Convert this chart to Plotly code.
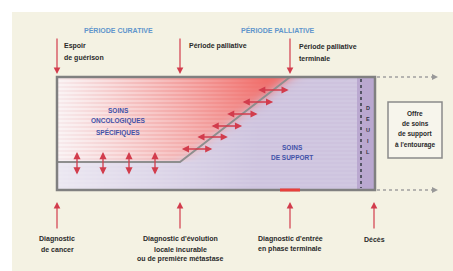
import numpy as np
import plotly.graph_objects as go

# ---- content (text) ----
period_labels = ["PÉRIODE CURATIVE", "PÉRIODE PALLIATIVE"]
top_event_labels = [["Espoir", "de guérison"], ["Période palliative"], ["Période palliative", "terminale"]]
bottom_event_labels = [["Diagnostic", "de cancer"],
                       ["Diagnostic d'évolution", "locale incurable", "ou de première métastase"],
                       ["Diagnostic d'entrée", "en phase terminale"],
                       ["Décès"]]
zone_labels = [["SOINS", "ONCOLOGIQUES", "SPÉCIFIQUES"], ["SOINS", "DE SUPPORT"]]
deuil_letters = ["D", "E", "U", "I", "L"]
entourage_labels = ["Offre", "de soins", "de support", "à l'entourage"]

# ---- layout geometry (pixel-like coordinates) ----
W, H = 453, 271
RX0, RX1, RY0, RY1 = 57, 375, 77, 190
T_START, T_PAL, T_TERM, T_DEATH = 57, 180, 290, 374
LINE_Y = 162

# gradient image for the main box
xs = np.arange(RX0, RX1) + 0.5
ys = np.arange(RY0, RY1) + 0.5
X, Y = np.meshgrid(xs, ys)
xc = T_PAL + (LINE_Y - Y) * (T_TERM - T_PAL) / (LINE_Y - RY0)
dx = np.where(Y < LINE_Y, X - xc, 999)
dy = Y - LINE_Y
inside = 1 / (1 + np.exp(np.clip(dx / 5.0, -50, 50)))
inside = inside * (1 / (1 + np.exp(np.clip(dy / 1.5, -50, 50))))

t = np.clip((X - RX0) / 210.0, 0, 1)
inten = t ** 1.0 * (1 - 0.25 * (Y - RY0) / (LINE_Y - RY0))
inten = np.clip(inten, 0, 1)
white = np.array([248, 236, 238.0])
red = np.array([241, 108, 104.0])
A = white[None, None, :] * (1 - inten[..., None]) + red[None, None, :] * inten[..., None]
stripe = ((np.floor(Y) // 2) % 2 == 0).astype(float) * (1 - t) * 0.45
A = A + (255 - A) * stripe[..., None]

lav_light = np.array([236, 232, 242.0])
lav = np.array([206, 196, 223.0])
u = np.clip((X - RX0) / 200.0, 0, 1)[..., None]
B = lav_light * (1 - u) + lav * u
stripeB = ((np.floor(Y) // 2) % 2 == 0).astype(float) * 0.08
B = B + (255 - B) * stripeB[..., None]

img = A * inside[..., None] + B * (1 - inside[..., None])
col = (X > 357)
img[col] = np.array([186, 168, 208.0])
img = np.clip(img, 0, 255).astype(np.uint8)

fig = go.Figure()
fig.add_trace(go.Image(z=img, x0=RX0 + 0.5, y0=RY0 + 0.5, dx=1, dy=1, hoverinfo="skip"))

cx = [RX0, T_PAL, T_TERM]
cyl = [LINE_Y, LINE_Y, RY0]
fig.add_trace(go.Scatter(x=cx, y=cyl, mode="lines", line=dict(color="#8e8e8e", width=2), hoverinfo="skip"))

shapes = []
shapes.append(dict(type="rect", x0=12, x1=W + 5, y0=12, y1=H + 5, fillcolor="#f4f2e3", line=dict(width=0), layer="below"))
shapes.append(dict(type="rect", x0=RX0, x1=RX1, y0=RY0, y1=RY1, line=dict(color="#808080", width=2.5)))
shapes.append(dict(type="line", x0=361, x1=361, y0=RY0 + 2, y1=RY1 - 2, line=dict(color="#555566", width=2, dash="dot")))
shapes.append(dict(type="line", x0=280, x1=300, y0=RY1, y1=RY1, line=dict(color="#e8403c", width=3)))
for yy in (RY0, RY1):
    shapes.append(dict(type="line", x0=RX1 + 2, x1=433, y0=yy, y1=yy, line=dict(color="#a0a0a0", width=1.5, dash="dot")))
    shapes.append(dict(type="path", path=f"M 432 {yy-3} L 438 {yy} L 432 {yy+3} Z", fillcolor="#999999", line=dict(width=0)))
shapes.append(dict(type="rect", x0=388, x1=442, y0=102, y1=158, fillcolor="#f7f5ec", line=dict(color="#8a8a8a", width=1.5)))

ann = []
RED = "#d23c4c"
def arrow(x, y, ax, ay, both=False, width=1.2):
    ann.append(dict(x=x, y=y, ax=ax, ay=ay, xref="x", yref="y", axref="x", ayref="y", text="",
                    showarrow=True, arrowhead=2, arrowsize=1.1, arrowwidth=width, arrowcolor=RED,
                    arrowside="end+start" if both else "end"))

def text_lines(lines, x, y0, spacing, size=7, color="#2a2a2a", xanchor="center", bold=True):
    for i, s in enumerate(lines):
        ann.append(dict(x=x, y=y0 + i * spacing, xref="x", yref="y", text=f"<b>{s}</b>" if bold else s,
                        showarrow=False, xanchor=xanchor, yanchor="middle",
                        font=dict(size=size, color=color, family="Liberation Sans, Arial")))

for xx in (T_START, T_PAL, T_TERM):
    arrow(xx, 74, xx, 37)
for xx in (T_START, T_PAL, T_TERM, T_DEATH):
    arrow(xx, 202, xx, 230)
for xx in (77, 103, 129, 155):
    arrow(xx, 152, xx, 176, both=True, width=1.3)
for yy in (90, 102, 114, 126, 137, 149):
    xm = T_PAL + (LINE_Y - yy) * (T_TERM - T_PAL) / (LINE_Y - RY0)
    arrow(xm - 15, yy, xm + 17, yy, both=True, width=1.3)

text_lines([period_labels[0]], 118, 30, 10, size=7, color="#6196cc")
text_lines([period_labels[1]], 278, 30, 10, size=7, color="#6196cc")
text_lines(top_event_labels[0], 62, 46, 12, xanchor="left")
text_lines(top_event_labels[1], 187, 46, 12, xanchor="left")
text_lines(top_event_labels[2], 297, 47, 11, xanchor="left")
for xx, lines in zip((T_START, T_PAL, T_TERM, T_DEATH), bottom_event_labels):
    text_lines(lines, xx, 239, 10)
text_lines(zone_labels[0], 118, 110, 11, size=6.5, color="#4252a8")
text_lines(zone_labels[1], 292, 147, 10, size=6.5, color="#4252a8")
text_lines(deuil_letters, 368, 108, 11, size=5.5, color="#333344")
text_lines(entourage_labels, 415, 113, 10.5, size=6.5)

fig.update_layout(
    width=W, height=H, margin=dict(l=0, r=0, t=0, b=0),
    paper_bgcolor="white", plot_bgcolor="white",
    shapes=shapes, annotations=ann, showlegend=False,
    xaxis=dict(range=[0, W], visible=False, showgrid=False, zeroline=False),
    yaxis=dict(range=[H, 0], visible=False, showgrid=False, zeroline=False, autorange=False),
)
fig.write_html("out.html", config={"displayModeBar": False},
               post_script="document.body.style.margin='0';document.body.style.overflow='hidden';")
